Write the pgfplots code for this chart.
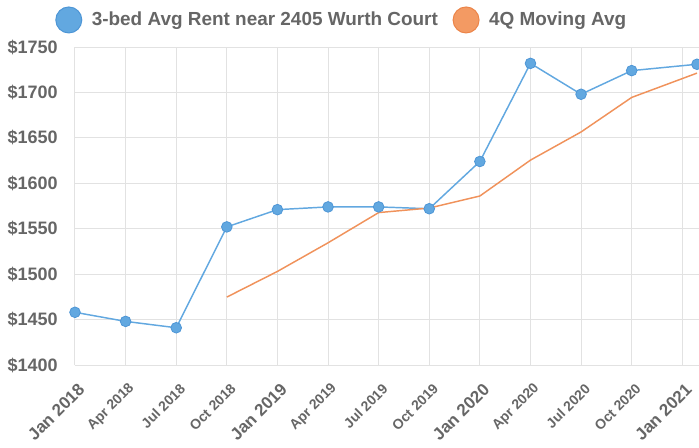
\documentclass[border=0pt]{standalone}
\usepackage{fontspec}
\setmainfont{Liberation Sans}
\usepackage{pgfplots}
\pgfplotsset{compat=1.18}
\definecolor{tickgray}{HTML}{666666}
\definecolor{bl}{HTML}{62A8E0}
\definecolor{bldark}{HTML}{4E96D6}
\definecolor{orl}{HTML}{F0925B}
\definecolor{orfill}{HTML}{F39A63}
\definecolor{ordark}{HTML}{EC8448}
\definecolor{gridc}{HTML}{E2E2E2}
\newcommand\Jn{\fontsize{12.75}{14}\selectfont\bfseries}
\newcommand\Ot{\fontsize{10.5}{12}\selectfont\bfseries}
\begin{document}
\begin{tikzpicture}
\begin{axis}[
  scale only axis, width=468pt, height=238.5pt,
  xmin=0, xmax=12.33, ymin=1400, ymax=1750,
  xtick={0,...,12},
  xticklabels={{\Jn Jan 2018},{\Ot Apr 2018},{\Ot Jul 2018},{\Ot Oct 2018},{\Jn Jan 2019},{\Ot Apr 2019},{\Ot Jul 2019},{\Ot Oct 2019},{\Jn Jan 2020},{\Ot Apr 2020},{\Ot Jul 2020},{\Ot Oct 2020},{\Jn Jan 2021}},
  ytick={1400,1450,1500,1550,1600,1650,1700,1750},
  yticklabels={\$1400,\$1450,\$1500,\$1550,\$1600,\$1650,\$1700,\$1750},
  grid=major, grid style={gridc, line width=0.75pt},
  axis lines*=left, axis line style={gridc, line width=0.75pt},
  major tick length=0pt,
  tick label style={text=tickgray},
  yticklabel style={font=\fontsize{13.5}{15}\selectfont\bfseries, anchor=east, inner sep=0pt, xshift=-12.75pt},
  xticklabel style={xshift=5pt, yshift=-16pt, rotate=45, anchor=east, inner sep=0pt},
  legend style={draw=none, fill=none, at={(-0.032,1.085)}, anchor=west, inner sep=0pt,
    legend columns=2, font=\fontsize{14.2}{16}\selectfont\bfseries, text=tickgray,
    /tikz/every even column/.append style={column sep=9pt}},
  legend cell align=left,
]
\addplot[bl, line width=1.1pt, mark=*, mark size=4pt, mark options={fill=bl, draw=bldark, line width=0.6pt},
  legend image code/.code={\filldraw[fill=bl, draw=bldark, line width=0.75pt] (9.75pt,0) circle (9.75pt); \path[draw=none, fill=none] (0,0) -- (25pt,0);}]
  coordinates {(0,1458)(1,1448)(2,1441)(3,1552)(4,1571)(5,1574)(6,1574)(7,1572)(8,1624)(9,1732)(10,1698)(11,1724)(12.29,1731)};
\addlegendentry{3-bed Avg Rent near 2405 Wurth Court}
\addplot[orl, line width=1.1pt, mark=none,
  legend image code/.code={\filldraw[fill=orfill, draw=ordark, line width=0.75pt] (9.75pt,0) circle (9.75pt); \path[draw=none, fill=none] (0,0) -- (25pt,0);}]
  coordinates {(3,1474.75)(4,1503)(5,1534.5)(6,1567.75)(7,1572.75)(8,1586)(9,1625.5)(10,1656.5)(11,1694.5)(12.29,1721.25)};
\addlegendentry{4Q Moving Avg}
\coordinate (A) at (rel axis cs:0,0);
\end{axis}
\pgfresetboundingbox
\path (A) ++(-56.25pt,-61.5pt) rectangle ++(524.25pt,335.25pt);
\end{tikzpicture}
\end{document}
